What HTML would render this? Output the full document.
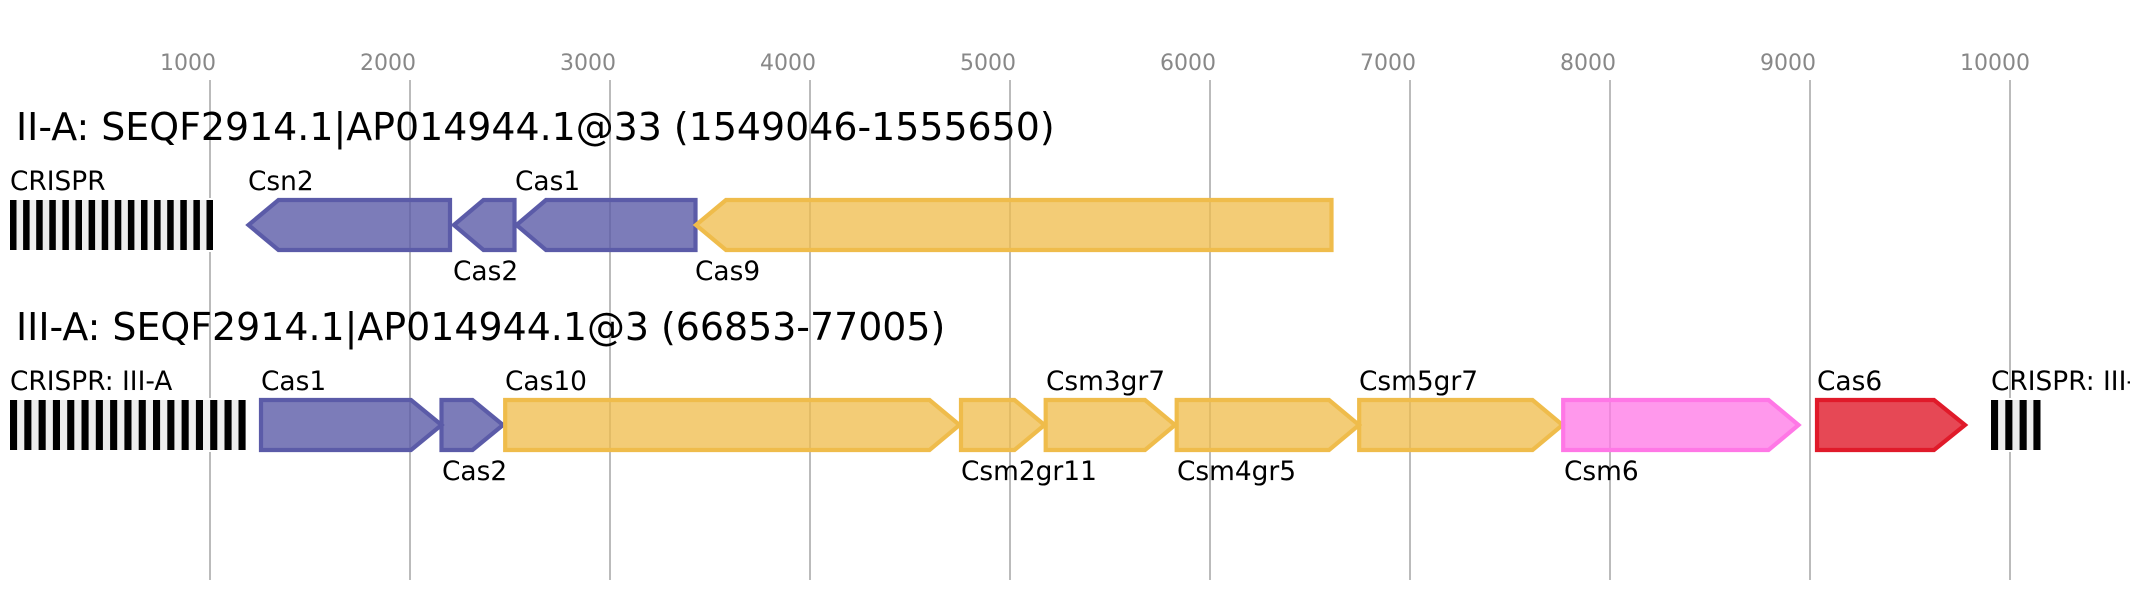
<!DOCTYPE html>
<html><head><meta charset="utf-8"><style>html,body{margin:0;padding:0;background:#fff}svg{display:block}text{font-family:"DejaVu Sans",sans-serif;font-size:26.4px;fill:#000}.t{font-size:37.9px}.n{font-size:22px;fill:#888}.b{fill:#5b5ba8;stroke:#5b5ba8}.y{fill:#efbc4b;stroke:#efbc4b}.p{fill:#ff77e6;stroke:#ff77e6}.r{fill:#e01a2a;stroke:#e01a2a}polygon{stroke-width:4.2;fill-opacity:.8}.y,.p{fill-opacity:.76}</style></head><body>
<svg xmlns="http://www.w3.org/2000/svg" width="2130" height="600" viewBox="0 0 2130 600">
<rect width="2130" height="600" fill="#fff"/>
<g stroke="#bbb" stroke-width="2">
<line x1="210" y1="80" x2="210" y2="580"/><line x1="410" y1="80" x2="410" y2="580"/><line x1="610" y1="80" x2="610" y2="580"/><line x1="810" y1="80" x2="810" y2="580"/><line x1="1010" y1="80" x2="1010" y2="580"/><line x1="1210" y1="80" x2="1210" y2="580"/><line x1="1410" y1="80" x2="1410" y2="580"/><line x1="1610" y1="80" x2="1610" y2="580"/><line x1="1810" y1="80" x2="1810" y2="580"/><line x1="2010" y1="80" x2="2010" y2="580"/>
</g>
<g class="nums">
<text class="n" x="160" y="70">1000</text><text class="n" x="360" y="70">2000</text><text class="n" x="560" y="70">3000</text><text class="n" x="760" y="70">4000</text><text class="n" x="960" y="70">5000</text><text class="n" x="1160" y="70">6000</text><text class="n" x="1360" y="70">7000</text><text class="n" x="1560" y="70">8000</text><text class="n" x="1760" y="70">9000</text><text class="n" x="1960" y="70">10000</text>
</g>
<text class="t" x="16" y="140">II-A: SEQF2914.1|AP014944.1@33 (1549046-1555650)</text>
<text class="t" x="16" y="340">III-A: SEQF2914.1|AP014944.1@3 (66853-77005)</text>

<rect x="10" y="198" width="203" height="54" fill="#fff"/>
<rect x="10" y="200" width="203" height="50" fill="#eee"/>
<g fill="#000">
<rect x="10" y="200" width="6.5" height="50"/><rect x="23.1" y="200" width="6.5" height="50"/><rect x="36.2" y="200" width="6.5" height="50"/><rect x="49.3" y="200" width="6.5" height="50"/><rect x="62.4" y="200" width="6.5" height="50"/><rect x="75.5" y="200" width="6.5" height="50"/><rect x="88.6" y="200" width="6.5" height="50"/><rect x="101.7" y="200" width="6.5" height="50"/><rect x="114.8" y="200" width="6.5" height="50"/><rect x="127.9" y="200" width="6.5" height="50"/><rect x="141" y="200" width="6.5" height="50"/><rect x="154.1" y="200" width="6.5" height="50"/><rect x="167.2" y="200" width="6.5" height="50"/><rect x="180.3" y="200" width="6.5" height="50"/><rect x="193.4" y="200" width="6.5" height="50"/><rect x="206.5" y="200" width="6.5" height="50"/>
</g>
<polygon class="b" points="450,200 278.5,200 248.5,225 278.5,250 450,250"/>
<polygon class="b" points="514.5,200 483.5,200 453.9,225 483.5,250 514.5,250"/>
<polygon class="b" points="695.5,200 546,200 516.5,225 546,250 695.5,250"/>
<polygon class="y" points="1331.5,200 726,200 696,225 726,250 1331.5,250"/>
<text x="10" y="190">CRISPR</text><text x="248" y="190">Csn2</text><text x="515" y="190">Cas1</text>
<text x="453" y="280">Cas2</text><text x="695" y="280">Cas9</text>

<rect x="10" y="398" width="235.6" height="54" fill="#fff"/>
<rect x="10" y="400" width="235.6" height="50" fill="#eee"/>
<g fill="#000">
<rect x="10" y="400" width="7.1" height="50"/><rect x="24.3" y="400" width="7.1" height="50"/><rect x="38.6" y="400" width="7.1" height="50"/><rect x="52.9" y="400" width="7.1" height="50"/><rect x="67.2" y="400" width="7.1" height="50"/><rect x="81.5" y="400" width="7.1" height="50"/><rect x="95.8" y="400" width="7.1" height="50"/><rect x="110.1" y="400" width="7.1" height="50"/><rect x="124.4" y="400" width="7.1" height="50"/><rect x="138.7" y="400" width="7.1" height="50"/><rect x="153" y="400" width="7.1" height="50"/><rect x="167.3" y="400" width="7.1" height="50"/><rect x="181.6" y="400" width="7.1" height="50"/><rect x="195.9" y="400" width="7.1" height="50"/><rect x="210.2" y="400" width="7.1" height="50"/><rect x="224.5" y="400" width="7.1" height="50"/><rect x="238.5" y="400" width="7.1" height="50"/>
</g>
<rect x="1991" y="398" width="49.5" height="54" fill="#fff"/>
<rect x="1991" y="400" width="49.5" height="50" fill="#eee"/>
<g fill="#000"><rect x="1991" y="400" width="7.1" height="50"/><rect x="2005.3" y="400" width="7.1" height="50"/><rect x="2019.6" y="400" width="7.1" height="50"/><rect x="2033.4" y="400" width="7.1" height="50"/></g>
<polygon class="b" points="261,400 411,400 441.5,425 411,450 261,450"/>
<polygon class="b" points="441.5,400 472.5,400 503,425 472.5,450 441.5,450"/>
<polygon class="y" points="505.2,400 929.5,400 959.5,425 929.5,450 505.2,450"/>
<polygon class="y" points="961,400 1014.5,400 1044.5,425 1014.5,450 961,450"/>
<polygon class="y" points="1045.7,400 1145,400 1175,425 1145,450 1045.7,450"/>
<polygon class="y" points="1176.7,400 1329,400 1359,425 1329,450 1176.7,450"/>
<polygon class="y" points="1359.2,400 1532.5,400 1562.5,425 1532.5,450 1359.2,450"/>
<polygon class="p" points="1563.2,400 1768.5,400 1798.5,425 1768.5,450 1563.2,450"/>
<polygon class="r" points="1817,400 1934,400 1965,425 1934,450 1817,450"/>
<text x="10" y="390">CRISPR: III-A</text><text x="261" y="390">Cas1</text><text x="505" y="390">Cas10</text><text x="1046" y="390">Csm3gr7</text><text x="1359" y="390">Csm5gr7</text><text x="1817" y="390">Cas6</text><text x="1991" y="390">CRISPR: III-A</text>
<text x="442" y="480">Cas2</text><text x="961" y="480">Csm2gr11</text><text x="1177" y="480">Csm4gr5</text><text x="1564" y="480">Csm6</text>
</svg>
</body></html>
